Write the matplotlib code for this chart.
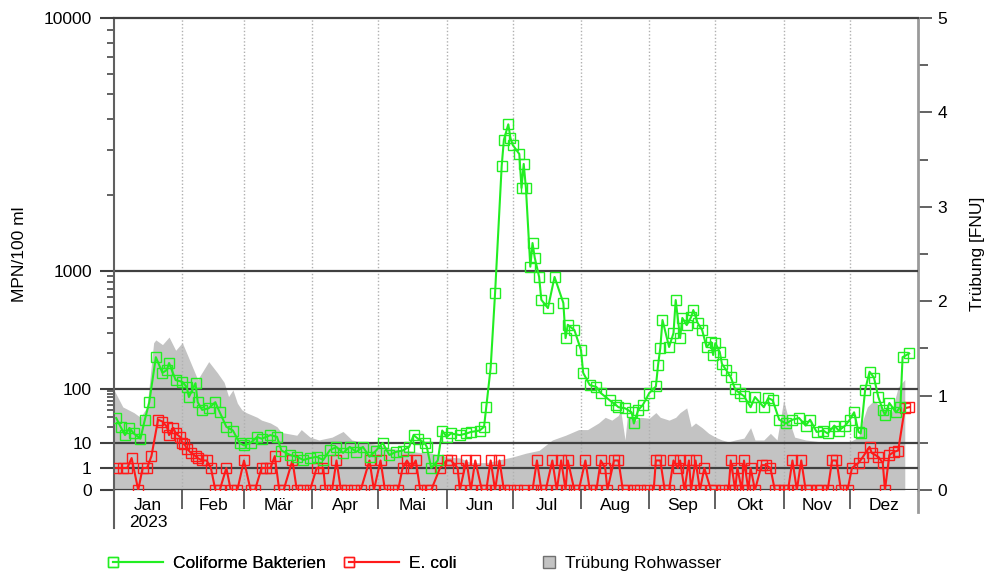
import numpy as np
import matplotlib
matplotlib.use('Agg')
import matplotlib.pyplot as plt
from matplotlib.lines import Line2D
from matplotlib.legend_handler import HandlerLine2D
from matplotlib.ticker import FixedLocator, FuncFormatter, NullFormatter

plt.rcParams['font.family'] = ['Liberation Sans', 'DejaVu Sans']
plt.rcParams['font.size'] = 12.5

# --- Messwerte 2023 (Tag im Jahr, 0 = 1. Januar) ---
coli_days = [1, 3, 5, 7, 9, 12, 14, 16, 19, 22, 24, 25, 28, 31, 33, 34, 37, 38,
             40, 43, 46, 48, 51, 54, 57, 59, 62, 65, 67, 71, 74, 76, 80, 83, 86,
             89, 92, 95, 98, 101, 104, 107, 110, 113, 116, 119, 122, 125, 128,
             131, 134, 136, 138, 141, 142, 144, 147, 149, 151, 153, 157, 160,
             162, 166, 168, 169, 171, 173, 176, 177, 179, 180, 181, 184, 185,
             186, 187, 189, 190, 191, 193, 194, 197, 200, 204, 205, 206, 209,
             212, 213, 216, 219, 221, 225, 228, 229, 232, 235, 236, 238, 240,
             243, 246, 247, 248, 249, 252, 254, 255, 257, 258, 260, 262, 263,
             265, 267, 269, 271, 272, 273, 275, 276, 278, 280, 282, 284, 286,
             289, 291, 295, 297, 299, 302, 305, 308, 311, 314, 316, 319, 322,
             324, 327, 329, 332, 334, 336, 338, 339, 341, 343, 345, 347, 349,
             350, 352, 355, 357, 358, 361]
coli_vals = [29, 20, 14, 19, 15, 12, 27, 57, 186, 137, 145, 166, 119, 115, 104,
             71, 112, 57, 41, 44, 57, 37, 20, 17, 10, 8, 10, 13, 12, 14, 13, 5,
             3.3, 2.8, 2.1, 2.5, 2.8, 2.1, 5.2, 6.9, 4, 7, 4.4, 7, 2.8, 5, 10,
             3.3, 4.4, 5, 7, 14, 12, 10, 7, 1, 2, 17, 13, 15, 14, 15, 16, 17,
             20, 46, 152, 650, 2600, 3300, 3800, 3350, 3150, 2900, 2130, 2650,
             2130, 1040, 1290, 1130, 890, 570, 485, 890, 535, 270, 350, 316,
             214, 137, 108, 104, 84, 62, 50, 46, 44, 37, 23, 41, 50, 84, 105,
             160, 222, 384, 227, 298, 567, 270, 400, 348, 407, 467, 362, 316,
             227, 250, 194, 245, 206, 163, 144, 126, 98, 84, 74, 46, 71, 46,
             68, 62, 27, 23, 27, 29, 21, 27, 16, 17, 15, 21, 17, 21, 27, 37,
             16, 15, 96, 140, 125, 71, 41, 33, 55, 37, 46, 186, 200]

ecoli_days = [1, 4, 6, 8, 11, 13, 15, 17, 20, 22, 24, 25, 27, 28, 30, 31, 32, 33,
              35, 37, 38, 40, 42, 44, 46,
              48, 51, 53, 56, 59, 62, 64, 67, 69, 71, 73, 75, 77, 81, 83, 86, 89,
              92,
              95, 96, 99, 101, 103, 106, 109, 112, 116, 118, 121, 123, 126, 129,
              131, 133, 135, 137, 139, 142, 144,
              148, 151, 153, 156, 157, 160, 162, 164, 167, 169, 171, 173, 175,
              177, 180, 183, 186, 190,
              192, 194, 196, 199, 201, 203, 205, 206, 209, 211, 214, 216, 219,
              221, 223, 224, 227, 229, 231,
              233, 236, 239, 242, 245, 246, 248, 250, 252, 254, 256, 257, 259,
              261, 262, 264, 266, 268, 271,
              273, 276, 279, 280, 282, 283, 285, 286, 288, 289, 291, 294, 296,
              298, 300, 302, 304, 306, 308, 310, 312, 314, 316, 319, 321, 324,
              326, 328, 330,
              333, 335, 338, 340, 343, 344, 347, 349, 350, 352, 354, 356, 359,
              361]
ecoli_vals = [1, 1, 1, 2.5, 0, 1, 1, 3, 27, 25, 20, 14, 19, 15, 13, 10, 9, 6,
              4, 3, 2.5, 2, 2, 1, 0,
              0, 1, 0, 0, 2, 0, 0, 1, 1, 1, 3, 0, 0, 2, 0, 0, 0,
              1,
              1, 0, 0, 2, 0, 0, 0, 0, 2, 0, 2, 0, 0, 0,
              1, 2, 1, 2, 0, 0, 0,
              1, 2, 2, 1, 0, 2, 0, 2, 0, 0, 2, 0, 2,
              0, 0, 0, 0, 0,
              2, 0, 0, 2, 0, 2, 0, 2, 0, 0, 2, 0, 0,
              2, 1, 0, 2, 2, 0,
              0, 0, 0, 0, 0, 2, 2, 0, 0, 2, 1, 2, 0,
              2, 0, 2, 0, 1, 0,
              0, 0, 0, 2, 0, 1, 0, 2, 0, 1, 0, 1.3, 1.3,
              1, 0, 0, 0, 0, 2, 0, 2, 0, 0, 0, 0, 0,
              2, 2, 0,
              0, 1, 1.6, 2.8, 7, 4, 2.8, 1.6, 0, 3.3, 4.4, 5, 44,
              46]

turb_days = [0, 4, 9, 12, 15, 18, 19, 22, 25, 28, 31, 33, 38, 43, 47, 50, 52, 54,
             56, 58, 60, 65, 67, 71, 74, 76, 83, 85, 89, 93, 99, 104, 108, 114,
             120, 126, 133, 138, 144, 151, 157, 162, 169, 175, 181, 187, 193,
             199, 205, 211, 215, 220, 223, 226, 229, 230, 232, 233, 237, 239,
             243, 246, 248, 252, 255, 257, 260, 262, 264, 267, 270, 273, 276,
             279, 282, 286, 289, 291, 295, 298, 301, 304, 306, 309, 314, 321,
             329, 333, 338, 340, 342, 345, 348, 351, 353, 356, 359]
turb_vals = [1.06, 0.88, 0.82, 0.77, 0.88, 1.56, 1.59, 1.54, 1.62, 1.48, 1.56,
             1.45, 1.17, 1.36, 1.24, 1.14, 0.99, 1.06, 0.92, 0.85, 0.82, 0.77,
             0.74, 0.71, 0.67, 0.61, 0.58, 0.64, 0.56, 0.53, 0.56, 0.62, 0.53,
             0.50, 0.48, 0.44, 0.42, 0.40, 0.39, 0.35, 0.34, 0.29, 0.29, 0.32,
             0.35, 0.39, 0.42, 0.53, 0.58, 0.64, 0.64, 0.71, 0.77, 0.74, 0.79,
             0.85, 0.53, 0.77, 0.74, 0.77, 0.76, 0.82, 0.77, 0.74, 0.77, 0.82,
             0.87, 0.67, 0.71, 0.66, 0.60, 0.56, 0.53, 0.51, 0.53, 0.55, 0.66,
             0.53, 0.53, 0.60, 0.53, 0.95, 0.77, 0.56, 0.53, 0.51, 0.50, 0.50,
             0.56, 0.74, 0.88, 0.95, 0.88, 0.85, 0.82, 1.09, 1.17]

month_names = ['Jan', 'Feb', 'Mär', 'Apr', 'Mai', 'Jun', 'Jul', 'Aug', 'Sep',
               'Okt', 'Nov', 'Dez']
month_len = [31, 28, 31, 30, 31, 30, 31, 31, 30, 31, 30, 31]

green = '#22ee22'
red = '#ff1a1a'
gray_fill = '#c3c3c3'
line_dark = '#404040'

# y-Achse: 0..1 linear, darueber Dekaden mit unterschiedlicher Hoehe
dec_log = np.array([0.0, 1.0, 2.0, 3.0, 4.0])
dec_pos = np.array([22.0, 47.0, 101.0, 219.0, 472.0]) / 472.0


def fwd(v):
    v = np.asarray(v, dtype=float)
    lv = np.log10(np.clip(v, 1.0, None))
    return np.where(v <= 1.0, v * dec_pos[0], np.interp(lv, dec_log, dec_pos))


def inv(p):
    p = np.asarray(p, dtype=float)
    return np.where(p <= dec_pos[0], p / dec_pos[0],
                    10 ** np.interp(p, dec_pos, dec_log))


def marker_left(legline, orig):
    # Legendensymbol: Marker am linken Ende der Linie
    legline.update_from(orig)
    legline.set_markevery([0])


month_start = np.concatenate([[0], np.cumsum(month_len)])
month_mid = (month_start[:-1] + month_start[1:]) / 2.0

fig = plt.figure(figsize=(9.89, 5.77), dpi=100)
ax = fig.add_axes([114 / 989, 1 - 490 / 577, 804 / 989, 472 / 577])
ax2 = ax.twinx()
ax.set_zorder(ax2.get_zorder() + 1)
ax.patch.set_visible(False)

# Truebung (rechte Achse)
ax2.fill_between(turb_days, turb_vals, 0, color=gray_fill, lw=0)
ax2.set_ylim(0, 5)
ax2.yaxis.set_major_locator(FixedLocator([0, 1, 2, 3, 4, 5]))
ax2.yaxis.set_minor_locator(FixedLocator([0.5, 1.5, 2.5, 3.5, 4.5]))
ax2.tick_params(axis='y', which='major', length=10, width=1.3, color='#555555',
                pad=4)
ax2.tick_params(axis='y', which='minor', length=7, width=1.3, color='#555555')
ax2.set_ylabel('Trübung [FNU]')
ax2.yaxis.set_label_coords(1.065, 0.5)
for s in ['top', 'bottom', 'left']:
    ax2.spines[s].set_visible(False)
ax2.spines['right'].set_color('#9a9a9a')
ax2.spines['right'].set_linewidth(2)

# Bakterien (linke Achse)
ax.set_yscale('function', functions=(fwd, inv))
ax.set_ylim(0, 10000)
ax.set_xlim(0, 365)

for m in month_start[1:-1]:
    ax.axvline(m, color='#b0b0b0', lw=1, ls=(0, (1, 1.5)), zorder=1)
for lvl in [0, 1, 10, 100, 1000]:
    ax.axhline(lvl, color=line_dark, lw=1.6, zorder=2)

ax.plot(ecoli_days, ecoli_vals, color=red, lw=1.5, marker='s', ms=7,
        mfc='none', mec=red, mew=1, zorder=3)
ax.plot(coli_days, coli_vals, color=green, lw=1.5, marker='s', ms=7,
        mfc='none', mec=green, mew=1, zorder=4)

ax.yaxis.set_major_locator(FixedLocator([0, 1, 10, 100, 1000, 10000]))
ax.yaxis.set_major_formatter(FuncFormatter(lambda v, p: '%d' % round(v)))
minor_y = [k * 10 for k in range(2, 10)] + [k * 100 for k in range(2, 10)] + \
          [k * 1000 for k in range(2, 10)]
ax.yaxis.set_minor_locator(FixedLocator(minor_y))
ax.yaxis.set_minor_formatter(NullFormatter())
ax.tick_params(axis='y', which='major', length=10, width=1.5, color=line_dark,
               pad=6)
ax.tick_params(axis='y', which='minor', length=5, width=1.3, color='#555555')
ax.set_ylabel('MPN/100 ml')
ax.yaxis.set_label_coords(-0.108, 0.5)

ax.xaxis.set_major_locator(FixedLocator(month_start[1:-1]))
ax.xaxis.set_major_formatter(NullFormatter())
ax.xaxis.set_minor_locator(FixedLocator(month_mid))
ax.xaxis.set_minor_formatter(FuncFormatter(lambda v, p: month_names[p]))
ax.tick_params(axis='x', which='major', length=14, width=1.3, color='#555555')
ax.tick_params(axis='x', which='minor', length=0, pad=6)
ax.text(month_mid[0], -0.068, '2023', transform=ax.get_xaxis_transform(),
        ha='center', va='center')

ax.spines['bottom'].set_visible(False)
ax.spines['right'].set_visible(False)
ax.spines['top'].set_color(line_dark)
ax.spines['top'].set_linewidth(1.6)
ax.spines['left'].set_color('#606060')
ax.spines['left'].set_linewidth(1.5)
# Achsenlinien unten verlaengert
ax.plot([0, 0], [0, -38 / 472], transform=ax.transAxes, color='#606060',
        lw=1.5, clip_on=False)
ax2.plot([1, 1], [0, -22 / 472], transform=ax2.transAxes, color='#9a9a9a',
         lw=2, clip_on=False)

# Legende unter dem Diagramm
h_coli = Line2D([], [], color=green, lw=1.5, marker='s', ms=7, mfc='none',
                mec=green)
h_ecoli = Line2D([], [], color=red, lw=1.5, marker='s', ms=7, mfc='none',
                 mec=red)
leg_y = 1 - 563 / 577
leg1 = fig.legend([h_coli, h_ecoli], ['Coliforme Bakterien', 'E. coli'],
                  loc='center left', bbox_to_anchor=(113 / 989, leg_y),
                  ncol=2, frameon=False, borderpad=0, borderaxespad=0,
                  handlelength=2.9, handletextpad=0.58, columnspacing=1.3,
                  numpoints=1,
                  handler_map={Line2D: HandlerLine2D(update_func=marker_left)})
h_turb = Line2D([], [], ls='none', marker='s', ms=8, mfc=gray_fill,
                mec='#707070')
fig.legend([h_turb], ['Trübung Rohwasser'], loc='center left',
           bbox_to_anchor=(542 / 989, leg_y), frameon=False,
           borderpad=0, borderaxespad=0, handlelength=0.8, handletextpad=0.5,
           numpoints=1)
fig.add_artist(leg1)

fig.savefig('out.png', dpi=100)
